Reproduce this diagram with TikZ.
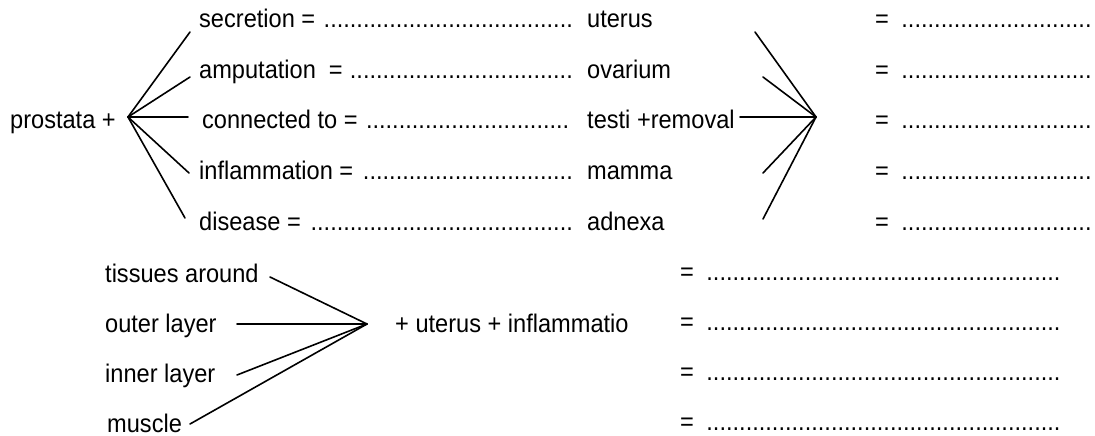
\documentclass[tikz,border=0pt]{standalone}
\usepackage{fontspec}
\setmainfont[FakeStretch=0.925]{Liberation Sans}
\newcommand\fillrow[2]{\hbox to #1{#2\leaders\hbox{.}\hfill}}
\begin{document}
\begin{tikzpicture}[x=1pt,y=-1pt,
  txt/.style={anchor=base west,inner sep=0pt,font=\fontsize{25.5}{30}\selectfont},
  link/.style={line width=1.6pt,line cap=round}]
\useasboundingbox (0,0) rectangle (1095,436);
% ---------- top left ----------
\node[txt] (prost) at (10,128) {prostata +};
\node[txt] (r1) at (199,28) {\fillrow{374pt}{secretion = }};
\node[txt] (r2) at (199,78) {\fillrow{374pt}{amputation\ \ = }};
\node[txt] (r3) at (202,128) {\fillrow{371pt}{connected to = }};
\node[txt] (r4) at (199,179) {\fillrow{374pt}{inflammation = }};
\node[txt] (r5) at (199,230) {\fillrow{374pt}{disease = }};
\node[txt] (w1) at (587,28) {uterus};
\node[txt] (w2) at (587,78) {ovarium};
\node[txt] (w3) at (587,128) {testi +removal};
\node[txt] (w4) at (587,179) {mamma};
\node[txt] (w5) at (587,230) {adnexa};
% right answers
\foreach \i/\y in {1/28,2/78,3/128,4/179,5/230}
  \node[txt] (a\i) at (875,\y) {\fillrow{218pt}{= }};
% left fan
\coordinate (P) at (128,117);
\coordinate (p1) at (190,32);
\coordinate (p2) at (190,77);
\coordinate (p3) at (188,117);
\coordinate (p4) at (189,173);
\coordinate (p5) at (185,218);
\foreach \i in {1,...,5} \draw[link] (P) -- (p\i);
% right fan
\coordinate (Q) at (816,117);
\coordinate (q1) at (755,32);
\coordinate (q2) at (763,77);
\coordinate (q3) at (740,117);
\coordinate (q4) at (763,173);
\coordinate (q5) at (763,219);
\foreach \i in {1,...,5} \draw[link] (q\i) -- (Q);
% ---------- bottom ----------
\node[txt] (b1) at (105,282) {tissues around};
\node[txt] (b2) at (105,332) {outer layer};
\node[txt] (b3) at (105,382) {inner layer};
\node[txt] (b4) at (107,432) {muscle};
\node[txt] (mid) at (395,332) {+ uterus + inflammatio};
\foreach \i/\y in {1/280,2/330,3/380,4/430}
  \node[txt] (c\i) at (680,\y) {\fillrow{383pt}{= }};
\coordinate (R) at (367,324);
\coordinate (s1) at (270,277);
\coordinate (s2) at (237,324);
\coordinate (s3) at (237,375);
\coordinate (s4) at (190,424);
\foreach \i in {1,...,4} \draw[link] (s\i) -- (R);
\end{tikzpicture}
\end{document}
